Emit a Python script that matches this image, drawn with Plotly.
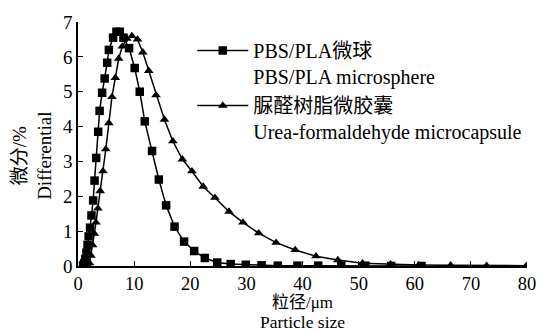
import plotly.graph_objects as go

# PBS/PLA microsphere (squares)
pbs_x = [0.9, 1.1, 1.3, 1.5, 1.7, 1.9, 2.15, 2.4, 2.7, 2.95, 3.25, 3.6, 3.85, 4.3, 4.75,
         5.2, 5.5, 6.25, 6.85, 7.45, 8.1, 9.1, 10.1, 11.0, 11.9, 13.2, 14.4, 15.7, 17.2,
         18.9, 20.7, 22.6, 24.8, 27.2, 29.9, 32.7, 35.6, 39.1, 42.8, 46.9, 51.2, 55.8, 61.2]
pbs_y = [0.02, 0.08, 0.2, 0.38, 0.6, 0.85, 1.1, 1.45, 1.88, 2.45, 3.1, 3.85, 4.45, 4.97, 5.38,
         5.83, 6.2, 6.55, 6.72, 6.72, 6.55, 6.25, 5.68, 5.0, 4.15, 3.3, 2.48, 1.74, 1.13,
         0.7, 0.43, 0.23, 0.1, 0.055, 0.035, 0.02, 0.01, 0.01, 0.01, 0.01, 0.01, 0.0, 0.0]

# Urea-formaldehyde microcapsule (triangles)
uf_x = [1.5, 1.75, 2.05, 2.3, 2.6, 2.9, 3.2, 3.55, 3.95, 4.45, 4.95, 5.5, 6.05, 6.65, 7.25,
        7.9, 8.7, 9.6, 10.6, 11.55, 12.6, 13.9, 15.4, 16.9, 18.6, 20.3, 22.3, 24.4, 26.9,
        29.4, 32.2, 35.3, 38.7, 42.4, 46.3, 50.7, 55.7, 60.7, 66.4, 72.8, 79.9]
uf_y = [0.0, 0.02, 0.08, 0.3, 0.6, 0.93, 1.25, 1.65, 2.15, 2.72, 3.35, 4.1, 4.85, 5.4, 5.95,
        6.3, 6.52, 6.6, 6.5, 6.13, 5.6, 4.9, 4.2, 3.58, 3.06, 2.72, 2.28, 1.96, 1.56,
        1.25, 0.94, 0.67, 0.46, 0.28, 0.17, 0.08, 0.05, 0.03, 0.02, 0.01, 0.01]

x_ticks = [0, 10, 20, 30, 40, 50, 60, 70, 80]
y_ticks = [0, 1, 2, 3, 4, 5, 6, 7]

SERIF = "Liberation Serif, Noto Sans CJK SC, serif"

fig = go.Figure()
fig.add_trace(go.Scatter(
    x=pbs_x, y=pbs_y, mode="lines+markers",
    name="PBS/PLA微球<br>PBS/PLA microsphere",
    line=dict(color="black", width=1.5),
    marker=dict(symbol="square", size=8.5, color="black"),
))
fig.add_trace(go.Scatter(
    x=uf_x, y=uf_y, mode="lines+markers",
    name="脲醛树脂微胶囊<br>Urea-formaldehyde microcapsule",
    line=dict(color="black", width=1.5),
    marker=dict(symbol="triangle-up", size=8.5, color="black"),
))

fig.update_layout(
    width=552, height=334,
    margin=dict(l=77.5, r=25, t=12, b=68),
    paper_bgcolor="white", plot_bgcolor="white",
    font=dict(family=SERIF, size=19, color="black"),
    showlegend=True,
    legend=dict(
        x=0.2545, y=0.963, xanchor="left", yanchor="top",
        bgcolor="rgba(0,0,0,0)", valign="top",
        font=dict(family=SERIF, size=20, color="black"),
        itemwidth=51, tracegroupgap=6,
    ),
    xaxis=dict(
        range=[0, 80], tickvals=x_ticks, ticks="inside", ticklen=5, tickwidth=1,
        tickcolor="black", showline=True, linecolor="black", linewidth=1.5,
        showgrid=False, zeroline=False, tickfont=dict(size=18.5),
    ),
    yaxis=dict(
        range=[0, 7], tickvals=y_ticks, ticks="inside", ticklen=5, tickwidth=1,
        tickcolor="black", showline=True, linecolor="black", linewidth=1.5,
        showgrid=False, zeroline=False, tickfont=dict(size=19),
    ),
    annotations=[
        dict(text="粒径/μm", xref="paper", yref="paper",
             x=0.5, y=(266 - 304) / 254, xanchor="center", yanchor="middle",
             showarrow=False, font=dict(family=SERIF, size=17)),
        dict(text="Particle size", xref="paper", yref="paper",
             x=0.5, y=(266 - 324) / 254, xanchor="center", yanchor="middle",
             showarrow=False, font=dict(family=SERIF, size=17.5)),
        dict(text="微分/%<br>Differential", xref="paper", yref="paper",
             x=-0.101, y=0.45, xanchor="center", yanchor="middle", textangle=-90,
             showarrow=False, font=dict(family=SERIF, size=19)),
    ],
)

fig.write_html("out.html")
